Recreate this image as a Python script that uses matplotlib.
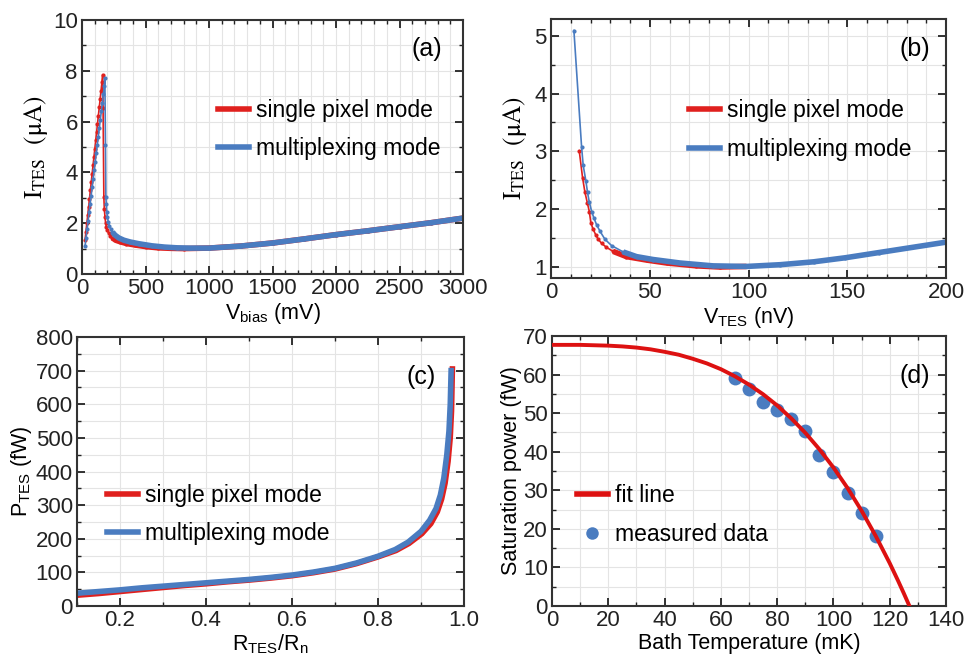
import numpy as np
import matplotlib
matplotlib.use("Agg")
import matplotlib.pyplot as plt
from matplotlib.ticker import MultipleLocator

plt.rcParams['font.family'] = ['Liberation Sans', 'DejaVu Sans']
plt.rcParams['mathtext.fontset'] = 'custom'
plt.rcParams['mathtext.rm'] = 'Liberation Sans'

RED = '#e0201e'
BLUE = '#4a7cc0'

# (a) I-V curve vs bias voltage
va_red = [24, 31, 38, 45, 52, 59, 66, 73, 80, 87, 94, 101, 108, 115, 122, 129, 136, 143, 150, 157, 163,
          166, 172, 176, 181, 186, 192, 200, 210, 222, 240, 265, 300, 350, 420, 500, 600, 700, 800,
          1000, 1250, 1500, 1750, 2000, 2250, 2500, 2750, 3000]
ia_red = [1.34, 1.66, 1.99, 2.31, 2.64, 2.97, 3.30, 3.62, 3.95, 4.28, 4.60, 4.93, 5.26, 5.58, 5.91, 6.24, 6.56, 6.89, 7.22, 7.55, 7.85,
          6.55, 3.02, 2.55, 2.25, 2.00, 1.85, 1.72, 1.60, 1.50, 1.42, 1.33, 1.27, 1.20, 1.14, 1.08, 1.03, 1.01, 1.00,
          1.02, 1.10, 1.22, 1.38, 1.55, 1.70, 1.86, 2.02, 2.20]
va_blue = [24, 32, 40, 48, 56, 64, 72, 80, 88, 96, 104, 112, 120, 128, 136, 144, 152, 160, 168, 175, 180,
           185, 188, 191, 195, 200, 207, 215, 225, 240, 260, 290, 330, 380, 450, 550, 650, 750, 850,
           1000, 1250, 1500, 1750, 2000, 2250, 2500, 2750, 3000]
ia_blue = [1.10, 1.43, 1.76, 2.10, 2.43, 2.76, 3.09, 3.42, 3.75, 4.08, 4.42, 4.75, 5.08, 5.41, 5.74, 6.07, 6.40, 6.74, 7.07, 7.40, 7.73,
           5.08, 3.04, 2.75, 2.45, 2.25, 2.05, 1.90, 1.78, 1.65, 1.53, 1.42, 1.33, 1.26, 1.19, 1.11, 1.06, 1.03, 1.02,
           1.02, 1.10, 1.22, 1.38, 1.55, 1.70, 1.86, 2.02, 2.20]

# (b) I-V curve vs TES voltage
vb_red = [14.3, 16.0, 17.2, 18.4, 19.4, 20.2, 21.4, 22.6, 23.9, 25.6, 28.1, 31.5, 38.2, 48.4, 58.5, 73.6, 85.4, 99]
ib_red = [3.01, 2.54, 2.29, 2.11, 1.96, 1.76, 1.65, 1.56, 1.48, 1.41, 1.34, 1.27, 1.18, 1.12, 1.07, 1.02, 1.00, 1.01]
vb_blue = [11.6, 15.5, 16.3, 17.7, 18.5, 19.4, 20.6, 21.7, 23.1, 24.8, 27.3, 30.7, 36.6, 43.3, 51.7, 65.2, 82,
           99, 116, 133, 149, 166, 183, 200]
ib_blue = [5.09, 3.07, 2.76, 2.48, 2.29, 2.12, 1.96, 1.85, 1.73, 1.62, 1.48, 1.37, 1.26, 1.18, 1.13, 1.07, 1.02,
           1.01, 1.04, 1.09, 1.16, 1.25, 1.34, 1.43]

# (c) power vs resistance ratio
rc_blue = [0.10, 0.15, 0.2, 0.25, 0.3, 0.35, 0.4, 0.45, 0.5, 0.55, 0.6, 0.65, 0.7, 0.75, 0.8, 0.84, 0.87, 0.9,
           0.92, 0.935, 0.945, 0.953, 0.96, 0.965, 0.968, 0.970]
pc_blue = [38, 43, 48, 54, 59, 64, 69, 74, 79, 85, 92, 101, 112, 128, 148, 168, 190, 222,
           255, 290, 330, 380, 450, 520, 600, 700]
rc_red = [0.10, 0.15, 0.2, 0.25, 0.3, 0.35, 0.4, 0.45, 0.5, 0.55, 0.6, 0.65, 0.7, 0.75, 0.8, 0.842, 0.872, 0.902,
          0.923, 0.938, 0.948, 0.956, 0.963, 0.968, 0.971, 0.973]
pc_red = [32, 37, 43, 49, 55, 61, 66, 72, 77, 83, 90, 99, 110, 126, 146, 165, 186, 215,
          245, 280, 318, 365, 430, 500, 580, 705]

# (d) saturation power vs bath temperature
t_fit = [0, 5, 10, 15, 20, 25, 30, 35, 40, 45, 50, 55, 60, 65, 70, 75, 80, 85, 90, 95, 100,
         105, 110, 115, 120, 123, 125, 127]
p_fit = [67.7, 67.7, 67.7, 67.6, 67.5, 67.3, 67.0, 66.55, 65.9, 65.15, 64.1, 62.9, 61.4, 59.55, 57.4, 54.9,
         52.0, 48.65, 44.9, 40.65, 35.9, 30.6, 24.7, 18.2, 11.1, 6.5, 3.3, 0.0]
t_meas = [65, 70, 75, 80, 85, 90, 95, 100, 105, 110, 115]
p_meas = [59.2, 56.2, 52.9, 50.9, 48.4, 45.5, 39.1, 34.7, 29.3, 24.1, 18.1]

W, H = 965, 660
fig = plt.figure(figsize=(W / 100, H / 100), dpi=100)


def box(l, r, t, b):
    return [l / W, 1 - b / H, (r - l) / W, (b - t) / H]


def style(ax, xmaj, xmin, ymaj, ymin):
    ax.xaxis.set_major_locator(MultipleLocator(xmaj))
    ax.xaxis.set_minor_locator(MultipleLocator(xmin))
    ax.yaxis.set_major_locator(MultipleLocator(ymaj))
    ax.yaxis.set_minor_locator(MultipleLocator(ymin))
    ax.tick_params(which='both', direction='in', top=True, right=True, labelsize=16, colors='#222222')
    ax.tick_params(which='major', length=6, width=1.3, pad=3)
    ax.tick_params(which='minor', length=3, width=1.0)
    ax.grid(which='both', color='#e4e4e4', lw=0.8)
    ax.set_axisbelow(True)
    for s in ax.spines.values():
        s.set_linewidth(1.5)
        s.set_color('#333333')


def draw_iv(ax, x, y, col, cut):
    x = np.array(x)
    y = np.array(y)
    ax.plot(x, y, '-', color=col, lw=1.2, marker='o', ms=3, mew=0)
    tail = x >= cut
    ax.plot(x[tail], y[tail], '-', color=col, lw=4, solid_capstyle='butt')


leg_kw = dict(frameon=False, fontsize=16.5, handlelength=1.35, handletextpad=0.3, labelspacing=0.68,
              borderaxespad=0, borderpad=0)

# panel (a)
axa = fig.add_axes(box(82, 463, 20, 274))
draw_iv(axa, va_red, ia_red, RED, 230)
draw_iv(axa, va_blue, ia_blue, BLUE, 240)
axa.set_xlim(0, 3000)
axa.set_ylim(0, 10)
style(axa, 500, 100, 2, 1)
axa.set_xlabel(r'V$_{\mathrm{bias}}$ (mV)', fontsize=15.5, labelpad=1)
axa.set_ylabel(r'$\mathrm{I_{TES}}$  $(\mathrm{\mu A})$', fontsize=18, math_fontfamily='stix', labelpad=2)
axa.text(0.905, 0.885, '(a)', transform=axa.transAxes, fontsize=18, ha='center', va='center')
ha = [plt.Line2D([], [], color=RED, lw=4), plt.Line2D([], [], color=BLUE, lw=4)]
axa.legend(ha, ['single pixel mode', 'multiplexing mode'], loc='upper left',
           bbox_to_anchor=(0.358, 0.69), **leg_kw)

# panel (b)
axb = fig.add_axes(box(551, 946, 19, 278))
draw_iv(axb, vb_red, ib_red, RED, 30)
draw_iv(axb, vb_blue, ib_blue, BLUE, 33)
axb.set_xlim(0, 200)
axb.set_ylim(0.81, 5.29)
style(axb, 50, 10, 1, 0.5)
axb.set_xlabel(r'V$_{\mathrm{TES}}$ (nV)', fontsize=15.5, labelpad=1)
axb.set_ylabel(r'$\mathrm{I_{TES}}$  $(\mathrm{\mu A})$', fontsize=18, math_fontfamily='stix', labelpad=4)
axb.text(0.92, 0.885, '(b)', transform=axb.transAxes, fontsize=18, ha='center', va='center')
axb.legend(ha, ['single pixel mode', 'multiplexing mode'], loc='upper left',
           bbox_to_anchor=(0.35, 0.69), **leg_kw)

# panel (c)
axc = fig.add_axes(box(77, 464, 337, 606))
axc.plot(rc_red, pc_red, '-', color=RED, lw=4)
axc.plot(rc_blue, pc_blue, '-', color=BLUE, lw=4)
axc.set_xlim(0.1, 1.0)
axc.set_ylim(0, 800)
style(axc, 0.2, 0.1, 100, 50)
axc.set_xlabel(r'R$_{\mathrm{TES}}$/R$_{\mathrm{n}}$', fontsize=15.5, labelpad=1)
axc.set_ylabel(r'P$_{\mathrm{TES}}$ (fW)', fontsize=15.5, labelpad=1)
axc.text(0.89, 0.85, '(c)', transform=axc.transAxes, fontsize=18, ha='center', va='center')
axc.legend(ha, ['single pixel mode', 'multiplexing mode'], loc='upper left',
           bbox_to_anchor=(0.077, 0.455), **leg_kw)

# panel (d)
axd = fig.add_axes(box(552, 946, 336, 606))
axd.plot(t_fit, p_fit, '-', color='#dd1111', lw=2.8, label='fit line', zorder=3)
axd.plot(t_meas, p_meas, 'o', color=BLUE, ms=10, mew=0, label='measured data', zorder=2)
axd.set_xlim(0, 140)
axd.set_ylim(0, 70)
style(axd, 20, 10, 10, 5)
axd.set_xlabel('Bath Temperature (mK)', fontsize=15.5, labelpad=1)
axd.set_ylabel('Saturation power (fW)', fontsize=15.5, labelpad=1)
axd.text(0.92, 0.85, '(d)', transform=axd.transAxes, fontsize=18, ha='center', va='center')
hd = [plt.Line2D([], [], color='#dd1111', lw=4),
      plt.Line2D([], [], color=BLUE, ls='', marker='o', ms=9, mew=0)]
axd.legend(hd, ['fit line', 'measured data'], loc='upper left',
           bbox_to_anchor=(0.063, 0.45), **leg_kw)

fig.savefig('out.png', dpi=100)
